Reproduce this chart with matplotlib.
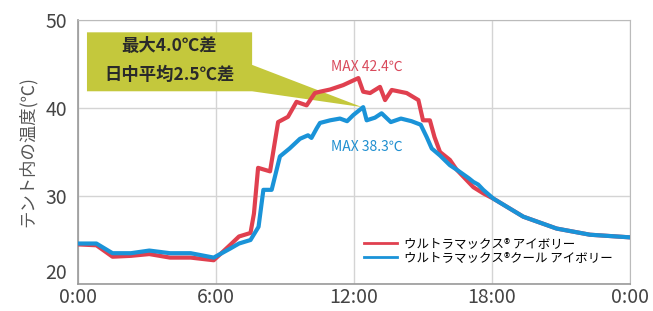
import matplotlib
matplotlib.use("Agg")
import matplotlib.pyplot as plt
from matplotlib.patches import Polygon

plt.rcParams['font.family'] = ['Noto Sans CJK JP', 'DejaVu Sans']

# time of day (hours) and tent temperature (°C)
red_h = [0, 0.8, 1.5, 2.3, 3.1, 4.0, 4.9, 5.9, 6.6, 7.0, 7.5, 7.65, 7.83, 8.35, 8.7,
         9.13, 9.5, 9.94, 10.3, 10.52, 10.96, 11.53, 12.19, 12.4, 12.7, 13.13, 13.35,
         13.64, 14.29, 14.8, 15.0, 15.3, 15.5, 15.74, 16.17, 16.46, 17.19, 17.62,
         18.06, 19.36, 20.81, 22.26, 24]
red_v = [24.5, 24.4, 23.1, 23.2, 23.4, 23.0, 23.0, 22.7, 24.4, 25.4, 25.8, 28.0, 33.2,
         32.8, 38.4, 39.0, 40.7, 40.3, 41.7, 41.85, 42.1, 42.6, 43.4, 41.85, 41.7,
         42.4, 40.9, 42.05, 41.7, 40.9, 38.6, 38.6, 36.7, 35.0, 34.1, 33.0, 31.0,
         30.3, 29.7, 27.65, 26.3, 25.6, 25.3]

blue_h = [0, 0.8, 1.5, 2.3, 3.1, 4.0, 4.9, 5.9, 6.6, 7.0, 7.5, 7.85, 8.06, 8.42, 8.78,
          9.2, 9.65, 10.0, 10.15, 10.38, 10.52, 10.96, 11.39, 11.7, 11.97, 12.4, 12.55,
          12.91, 13.2, 13.6, 14.04, 14.5, 14.9, 15.16, 15.38, 15.74, 16.17, 16.46,
          17.0, 17.19, 17.4, 17.62, 18.06, 19.36, 20.81, 22.26, 24]
blue_v = [24.6, 24.6, 23.5, 23.5, 23.8, 23.5, 23.5, 23.0, 24.0, 24.6, 25.0, 26.5, 30.7,
          30.7, 34.5, 35.4, 36.5, 36.9, 36.6, 37.7, 38.3, 38.6, 38.8, 38.5, 39.2, 40.1,
          38.6, 38.9, 39.4, 38.4, 38.8, 38.5, 38.1, 36.7, 35.4, 34.6, 33.5, 33.0, 32.0,
          31.6, 31.3, 30.7, 29.7, 27.65, 26.3, 25.6, 25.3]

labels = ["ウルトラマックス® アイボリー", "ウルトラマックス®クール アイボリー"]
xticks = [0, 6, 12, 18, 24]
xticklabels = ["0:00", "6:00", "12:00", "18:00", "0:00"]
yticks = [20, 30, 40, 50]

red = "#e0404f"
blue = "#1a93d8"

fig = plt.figure(figsize=(6.53, 3.11), dpi=100)
ax = fig.add_axes([78 / 653, 1 - 284 / 311, 552 / 653, 264 / 311])

ax.plot(red_h, red_v, color=red, lw=3, solid_joinstyle="round", label=labels[0], zorder=3)
ax.plot(blue_h, blue_v, color=blue, lw=3, solid_joinstyle="round", label=labels[1], zorder=4)

ax.set_xlim(0, 24)
ax.set_ylim(20, 50)
ax.set_xticks(xticks)
ax.set_xticklabels(xticklabels)
ax.set_yticks(yticks)
ax.tick_params(length=0, labelsize=14, labelcolor="#444")
ax.tick_params(axis="x", pad=2)
ax.tick_params(axis="y", pad=8)
ax.get_yticklabels()[0].set_va("bottom")  # lowest label sits above the axis
ax.grid(color="#d4d4d4", lw=1)
for s in ["top", "right"]:
    ax.spines[s].set_color("#bbbbbb")
for s in ["left", "bottom"]:
    ax.spines[s].set_color("#999999")
    ax.spines[s].set_linewidth(1.2)

ax.set_ylabel("テント内の温度(℃)", fontsize=12.5, color="#555", labelpad=6)

# callout box
box = Polygon([(0.39, 48.6), (7.57, 48.6), (7.57, 44.9), (12.35, 40.1),
               (7.57, 41.9), (0.39, 41.9)], closed=True,
              facecolor="#c4c83c", edgecolor="none", zorder=2)
ax.add_patch(box)
ax.text(3.98, 47.0, "最大4.0℃差", ha="center", va="center", fontsize=12.5,
        fontweight="bold", color="#2a2a2a", zorder=5)
ax.text(3.98, 43.7, "日中平均2.5℃差", ha="center", va="center", fontsize=12.5,
        fontweight="bold", color="#2a2a2a", zorder=5)

ax.text(11.0, 44.7, "MAX 42.4℃", color="#d94a5c", fontsize=10, va="center", zorder=5)
ax.text(11.0, 35.6, "MAX 38.3℃", color="#1f8fd0", fontsize=10, va="center", zorder=5)

leg = ax.legend(loc="lower right", bbox_to_anchor=(0.99, 0.03), frameon=False,
                fontsize=9, handlelength=2.6, handletextpad=0.6, labelspacing=0.1)
for line in leg.get_lines():
    line.set_linewidth(2)

fig.savefig("out.png", dpi=100)
